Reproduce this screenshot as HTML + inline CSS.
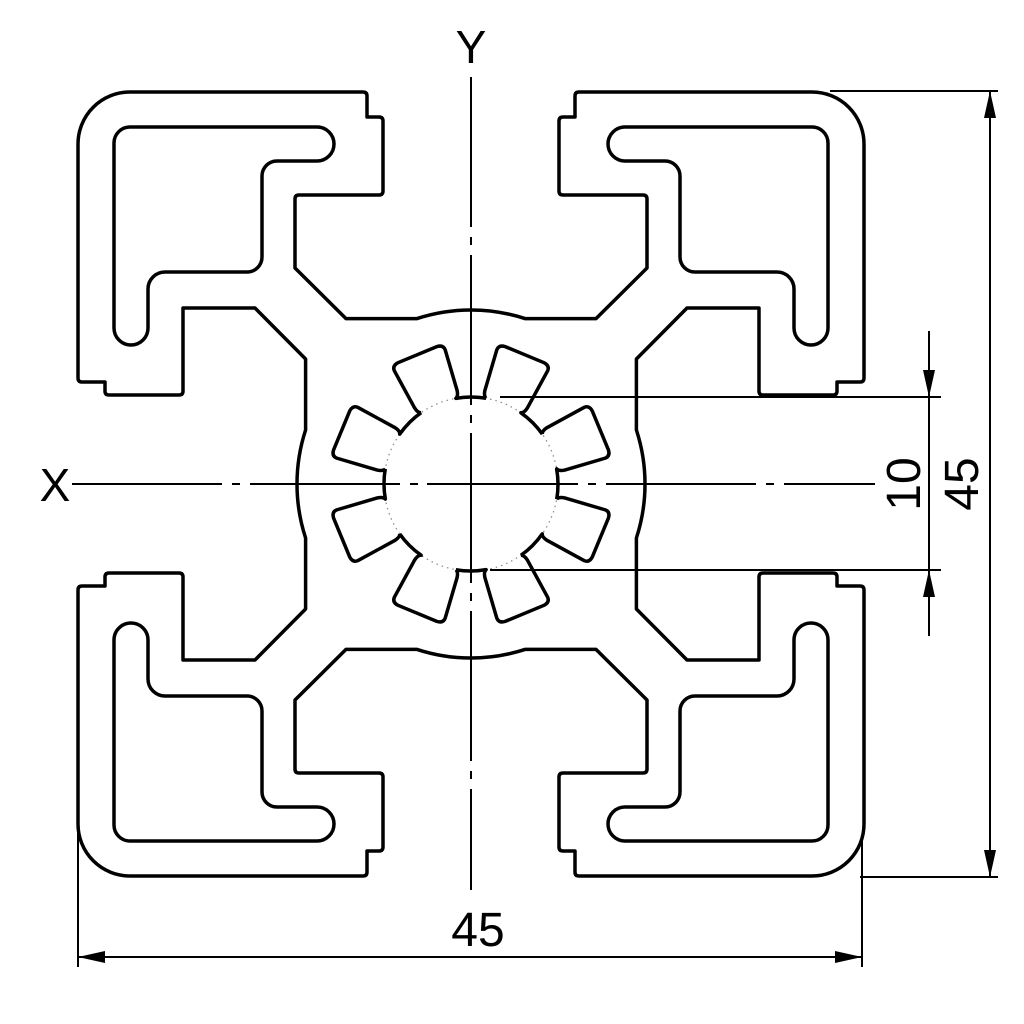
<!DOCTYPE html>
<html><head><meta charset="utf-8"><style>
html,body{margin:0;padding:0;background:#fff;}
svg{display:block;}
text{font-family:"Liberation Sans",sans-serif;fill:#000;}
</style></head><body>
<svg width="1024" height="1024" viewBox="0 0 1024 1024" xmlns="http://www.w3.org/2000/svg">
<defs>
<g id="q" fill="none" stroke="#000" stroke-width="3.5" stroke-linejoin="round" stroke-linecap="round">
<path d="M0,-174 A174,174 0 0 0 -54,-165.4 L-125,-165.4 L-176,-216 L-176,-285 Q-176,-289 -172,-289 L-92,-289 Q-88,-289 -88,-293 L-88,-363 Q-88,-367 -92,-367 L-104,-367 L-104,-388 Q-104,-392 -108,-392 L-341,-392 A52,52 0 0 0 -393,-340 L-393,-106 Q-393,-102 -389,-102 L-366,-102 L-366,-93 Q-366,-89 -362,-89 L-292,-89 Q-288,-89 -288,-93 L-288,-176 L-216,-176 L-165.4,-125 L-165.4,-54 A174,174 0 0 0 -174,0"/>
<path d="M-341,-357 L-154,-357 A17,17 0 0 1 -154,-323 L-194,-323 A15,15 0 0 0 -209,-308 L-209,-227 A15,15 0 0 1 -224,-212 L-306,-212 A17,17 0 0 0 -323,-195 L-323,-156 A17,17 0 0 1 -357,-156 L-357,-341 A16,16 0 0 1 -341,-357 Z"/>
</g>
<path id="tooth" d="M-18.8,-84.9 Q-22,-86 -23,-92 L-27.5,-134 Q-27.5,-139.5 -21,-140 L21,-140 Q27.5,-139.5 27.5,-134 L23,-92 Q22,-86 18.8,-84.9 A87,87 0 0 1 46.8,-73.4" fill="none" stroke="#000" stroke-width="3.5" stroke-linejoin="round"/>
</defs>
<g transform="translate(471,484)">
<use href="#q"/>
<use href="#q" transform="scale(-1,1)"/>
<use href="#q" transform="scale(1,-1)"/>
<use href="#q" transform="scale(-1,-1)"/>
<circle r="87" fill="none" stroke="#888" stroke-width="1.2" stroke-dasharray="1.5 4"/>
<use href="#tooth" transform="rotate(22.5)"/>
<use href="#tooth" transform="rotate(67.5)"/>
<use href="#tooth" transform="rotate(112.5)"/>
<use href="#tooth" transform="rotate(157.5)"/>
<use href="#tooth" transform="rotate(202.5)"/>
<use href="#tooth" transform="rotate(247.5)"/>
<use href="#tooth" transform="rotate(292.5)"/>
<use href="#tooth" transform="rotate(337.5)"/>
<g stroke="#000" stroke-width="2">
<line x1="-44" y1="0" x2="44" y2="0"/>
<line x1="0" y1="-44" x2="0" y2="44"/>
</g>
</g>
<g stroke="#000" stroke-width="2" fill="none">
<line x1="471" y1="77" x2="471" y2="890" stroke-dasharray="150 10 8 10"/>
<line x1="72" y1="484" x2="875" y2="484" stroke-dasharray="150 10 8 10"/>
<line x1="830" y1="91" x2="998" y2="91"/>
<line x1="860" y1="877" x2="998" y2="877"/>
<line x1="990" y1="91" x2="990" y2="877"/>
<line x1="500" y1="397" x2="941" y2="397"/>
<line x1="490" y1="570" x2="941" y2="570"/>
<line x1="929" y1="331" x2="929" y2="636"/>
<line x1="78" y1="830" x2="78" y2="967"/>
<line x1="862" y1="840" x2="862" y2="967"/>
<line x1="78" y1="957" x2="862" y2="957"/>
</g>
<g fill="#000">
<polygon points="990,91 984,118 996,118"/>
<polygon points="990,877 984,850 996,850"/>
<polygon points="929,397 923,370 935,370"/>
<polygon points="929,570 923,597 935,597"/>
<polygon points="78,957 105,951 105,963"/>
<polygon points="862,957 835,951 835,963"/>
</g>
<text x="471" y="63" font-size="46" text-anchor="middle">Y</text>
<text x="55" y="501" font-size="46" text-anchor="middle">X</text>
<text x="478" y="946" font-size="48" text-anchor="middle">45</text>
<text transform="translate(920,484) rotate(-90)" font-size="48" text-anchor="middle">10</text>
<text transform="translate(978,484) rotate(-90)" font-size="48" text-anchor="middle">45</text>
</svg>
</body></html>
